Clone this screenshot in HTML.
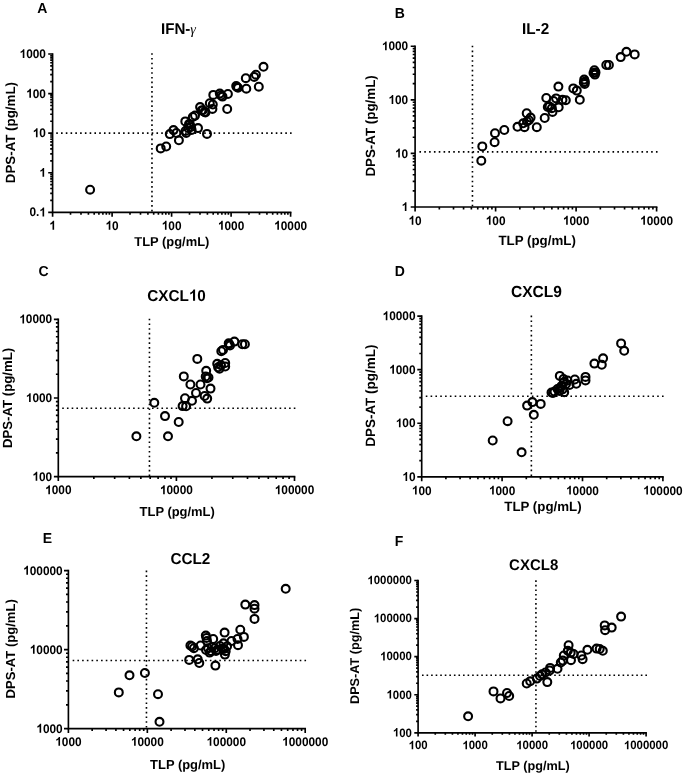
<!DOCTYPE html>
<html><head><meta charset="utf-8"><style>
html,body{margin:0;padding:0;background:#fff;}
svg{display:block;will-change:transform;}
text{font-family:"Liberation Sans", sans-serif;fill:#000;text-rendering:geometricPrecision;}
</style></head><body>
<svg width="685" height="775" viewBox="0 0 685 775">
<rect width="685" height="775" fill="#fff"/>
<path d="M52.6 212.3H290.6M52.6 212.3V54" stroke="#000" stroke-width="1.65" fill="none" stroke-linecap="square"/>
<path d="M52.6 212.3v4.4M70.51 212.3v2.4M80.99 212.3v2.4M88.42 212.3v2.4M94.19 212.3v2.4M98.9 212.3v2.4M102.88 212.3v2.4M106.33 212.3v2.4M109.38 212.3v2.4M112.1 212.3v4.4M130.01 212.3v2.4M140.49 212.3v2.4M147.92 212.3v2.4M153.69 212.3v2.4M158.4 212.3v2.4M162.38 212.3v2.4M165.83 212.3v2.4M168.88 212.3v2.4M171.6 212.3v4.4M189.51 212.3v2.4M199.99 212.3v2.4M207.42 212.3v2.4M213.19 212.3v2.4M217.9 212.3v2.4M221.88 212.3v2.4M225.33 212.3v2.4M228.38 212.3v2.4M231.1 212.3v4.4M249.01 212.3v2.4M259.49 212.3v2.4M266.92 212.3v2.4M272.69 212.3v2.4M277.4 212.3v2.4M281.38 212.3v2.4M284.83 212.3v2.4M287.88 212.3v2.4M290.6 212.3v4.4M52.6 212.3h-4.4M52.6 200.39h-2.4M52.6 193.42h-2.4M52.6 188.47h-2.4M52.6 184.64h-2.4M52.6 181.5h-2.4M52.6 178.86h-2.4M52.6 176.56h-2.4M52.6 174.54h-2.4M52.6 172.73h-4.4M52.6 160.81h-2.4M52.6 153.84h-2.4M52.6 148.9h-2.4M52.6 145.06h-2.4M52.6 141.93h-2.4M52.6 139.28h-2.4M52.6 136.99h-2.4M52.6 134.96h-2.4M52.6 133.15h-4.4M52.6 121.24h-2.4M52.6 114.27h-2.4M52.6 109.32h-2.4M52.6 105.49h-2.4M52.6 102.35h-2.4M52.6 99.71h-2.4M52.6 97.41h-2.4M52.6 95.39h-2.4M52.6 93.58h-4.4M52.6 81.66h-2.4M52.6 74.69h-2.4M52.6 69.75h-2.4M52.6 65.91h-2.4M52.6 62.78h-2.4M52.6 60.13h-2.4M52.6 57.84h-2.4M52.6 55.81h-2.4M52.6 54h-4.4" stroke="#000" stroke-width="1.65" fill="none"/>
<path transform="translate(49.3 229.7) scale(0.005786 -0.006075)" d="M835 0H557V1036C457 943 330 876 183 834V1083C260 1108 346 1152 438 1218C530 1284 593 1367 627 1466H835Z"/>
<path transform="translate(105.51 229.7) scale(0.005786 -0.006075)" d="M835 0H557V1036C457 943 330 876 183 834V1083C260 1108 346 1152 438 1218C530 1284 593 1367 627 1466H835Z"/><text transform="translate(112.1 229.7) scale(1 1.05)" font-size="11.85" font-weight="bold">0</text>
<path transform="translate(161.71 229.7) scale(0.005786 -0.006075)" d="M835 0H557V1036C457 943 330 876 183 834V1083C260 1108 346 1152 438 1218C530 1284 593 1367 627 1466H835Z"/><text transform="translate(168.3 229.7) scale(1 1.05)" font-size="11.85" font-weight="bold">00</text>
<path transform="translate(217.92 229.7) scale(0.005786 -0.006075)" d="M835 0H557V1036C457 943 330 876 183 834V1083C260 1108 346 1152 438 1218C530 1284 593 1367 627 1466H835Z"/><text transform="translate(224.51 229.7) scale(1 1.05)" font-size="11.85" font-weight="bold">000</text>
<path transform="translate(274.12 229.7) scale(0.005786 -0.006075)" d="M835 0H557V1036C457 943 330 876 183 834V1083C260 1108 346 1152 438 1218C530 1284 593 1367 627 1466H835Z"/><text transform="translate(280.71 229.7) scale(1 1.05)" font-size="11.85" font-weight="bold">0000</text>
<text transform="translate(29.43 216.4) scale(1 1.05)" font-size="11.85" font-weight="bold">0.</text><path transform="translate(39.31 216.4) scale(0.005786 -0.006075)" d="M835 0H557V1036C457 943 330 876 183 834V1083C260 1108 346 1152 438 1218C530 1284 593 1367 627 1466H835Z"/>
<path transform="translate(39.31 176.83) scale(0.005786 -0.006075)" d="M835 0H557V1036C457 943 330 876 183 834V1083C260 1108 346 1152 438 1218C530 1284 593 1367 627 1466H835Z"/>
<path transform="translate(32.72 137.25) scale(0.005786 -0.006075)" d="M835 0H557V1036C457 943 330 876 183 834V1083C260 1108 346 1152 438 1218C530 1284 593 1367 627 1466H835Z"/><text transform="translate(39.31 137.25) scale(1 1.05)" font-size="11.85" font-weight="bold">0</text>
<path transform="translate(26.13 97.67) scale(0.005786 -0.006075)" d="M835 0H557V1036C457 943 330 876 183 834V1083C260 1108 346 1152 438 1218C530 1284 593 1367 627 1466H835Z"/><text transform="translate(32.72 97.67) scale(1 1.05)" font-size="11.85" font-weight="bold">00</text>
<path transform="translate(19.54 58.1) scale(0.005786 -0.006075)" d="M835 0H557V1036C457 943 330 876 183 834V1083C260 1108 346 1152 438 1218C530 1284 593 1367 627 1466H835Z"/><text transform="translate(26.13 58.1) scale(1 1.05)" font-size="11.85" font-weight="bold">000</text>
<path d="M151.97 53.14V212.3" stroke="#000" stroke-width="1.6" stroke-dasharray="1.6 3.147" fill="none"/>
<path d="M56.24 133.1H291.6" stroke="#000" stroke-width="1.6" stroke-dasharray="1.6 3.172" fill="none"/>
<text transform="translate(161 34.4) scale(1 1.03)" font-size="15.1" font-weight="bold">IFN-<tspan font-weight="normal" font-family="Liberation Serif" font-style="italic" font-size="14.2">γ</tspan></text>
<text transform="translate(37.2 12.7) scale(1 1.03)" font-size="14" font-weight="bold">A</text>
<text transform="translate(134.3 246.2) " font-size="12.92" font-weight="bold">TLP (pg/mL)</text>
<text transform="translate(15.4 183.2) rotate(-90) scale(1 1.0)" font-size="13.33" font-weight="bold">DPS-AT (pg/mL)</text>
<g fill="none" stroke="#000" stroke-width="2.1"><circle cx="263.5" cy="66.8" r="3.95"/><circle cx="254.2" cy="76.9" r="3.95"/><circle cx="255.9" cy="74.7" r="3.95"/><circle cx="245.8" cy="78.2" r="3.95"/><circle cx="258.8" cy="86.7" r="3.95"/><circle cx="246.3" cy="88.7" r="3.95"/><circle cx="236.2" cy="86.1" r="3.95"/><circle cx="238" cy="87.8" r="3.95"/><circle cx="227.9" cy="94" r="3.95"/><circle cx="219.8" cy="93.6" r="3.95"/><circle cx="222.5" cy="96.6" r="3.95"/><circle cx="213.3" cy="94.9" r="3.95"/><circle cx="227.2" cy="109" r="3.95"/><circle cx="209.8" cy="103.2" r="3.95"/><circle cx="212.8" cy="104.5" r="3.95"/><circle cx="212.4" cy="108.9" r="3.95"/><circle cx="200.1" cy="107.1" r="3.95"/><circle cx="202.8" cy="110.2" r="3.95"/><circle cx="205.4" cy="112.4" r="3.95"/><circle cx="195" cy="115.6" r="3.95"/><circle cx="185.3" cy="121.4" r="3.95"/><circle cx="189.9" cy="124.6" r="3.95"/><circle cx="198" cy="128.1" r="3.95"/><circle cx="185.5" cy="131" r="3.95"/><circle cx="191.6" cy="129.9" r="3.95"/><circle cx="207" cy="133.9" r="3.95"/><circle cx="169.8" cy="134.1" r="3.95"/><circle cx="173.5" cy="130.1" r="3.95"/><circle cx="176.4" cy="133" r="3.95"/><circle cx="178.9" cy="140.3" r="3.95"/><circle cx="160.7" cy="148.4" r="3.95"/><circle cx="166.2" cy="146.5" r="3.95"/><circle cx="90.1" cy="189.7" r="3.95"/><circle cx="221" cy="95.5" r="3.95"/><circle cx="237" cy="87" r="3.95"/><circle cx="192.8" cy="117" r="3.95"/><circle cx="188.2" cy="128" r="3.95"/><circle cx="186.2" cy="133" r="3.95"/><circle cx="189" cy="124" r="3.95"/><circle cx="201.5" cy="110.5" r="3.95"/><circle cx="204.5" cy="112" r="3.95"/><circle cx="191" cy="127" r="3.95"/></g>
<path d="M415.1 207H656.6M415.1 207V46.2" stroke="#000" stroke-width="1.65" fill="none" stroke-linecap="square"/>
<path d="M415.1 207v4.4M439.33 207v2.4M453.51 207v2.4M463.57 207v2.4M471.37 207v2.4M477.74 207v2.4M483.13 207v2.4M487.8 207v2.4M491.92 207v2.4M495.6 207v4.4M519.83 207v2.4M534.01 207v2.4M544.07 207v2.4M551.87 207v2.4M558.24 207v2.4M563.63 207v2.4M568.3 207v2.4M572.42 207v2.4M576.1 207v4.4M600.33 207v2.4M614.51 207v2.4M624.57 207v2.4M632.37 207v2.4M638.74 207v2.4M644.13 207v2.4M648.8 207v2.4M652.92 207v2.4M656.6 207v4.4M415.1 207h-4.4M415.1 190.86h-2.4M415.1 181.43h-2.4M415.1 174.73h-2.4M415.1 169.54h-2.4M415.1 165.29h-2.4M415.1 161.7h-2.4M415.1 158.59h-2.4M415.1 155.85h-2.4M415.1 153.4h-4.4M415.1 137.26h-2.4M415.1 127.83h-2.4M415.1 121.13h-2.4M415.1 115.94h-2.4M415.1 111.69h-2.4M415.1 108.1h-2.4M415.1 104.99h-2.4M415.1 102.25h-2.4M415.1 99.8h-4.4M415.1 83.66h-2.4M415.1 74.23h-2.4M415.1 67.53h-2.4M415.1 62.34h-2.4M415.1 58.09h-2.4M415.1 54.5h-2.4M415.1 51.39h-2.4M415.1 48.65h-2.4M415.1 46.2h-4.4" stroke="#000" stroke-width="1.65" fill="none"/>
<path transform="translate(408.51 224.7) scale(0.005786 -0.006075)" d="M835 0H557V1036C457 943 330 876 183 834V1083C260 1108 346 1152 438 1218C530 1284 593 1367 627 1466H835Z"/><text transform="translate(415.1 224.7) scale(1 1.05)" font-size="11.85" font-weight="bold">0</text>
<path transform="translate(485.71 224.7) scale(0.005786 -0.006075)" d="M835 0H557V1036C457 943 330 876 183 834V1083C260 1108 346 1152 438 1218C530 1284 593 1367 627 1466H835Z"/><text transform="translate(492.3 224.7) scale(1 1.05)" font-size="11.85" font-weight="bold">00</text>
<path transform="translate(562.92 224.7) scale(0.005786 -0.006075)" d="M835 0H557V1036C457 943 330 876 183 834V1083C260 1108 346 1152 438 1218C530 1284 593 1367 627 1466H835Z"/><text transform="translate(569.51 224.7) scale(1 1.05)" font-size="11.85" font-weight="bold">000</text>
<path transform="translate(640.12 224.7) scale(0.005786 -0.006075)" d="M835 0H557V1036C457 943 330 876 183 834V1083C260 1108 346 1152 438 1218C530 1284 593 1367 627 1466H835Z"/><text transform="translate(646.71 224.7) scale(1 1.05)" font-size="11.85" font-weight="bold">0000</text>
<path transform="translate(401.61 211.1) scale(0.005786 -0.006075)" d="M835 0H557V1036C457 943 330 876 183 834V1083C260 1108 346 1152 438 1218C530 1284 593 1367 627 1466H835Z"/>
<path transform="translate(395.02 157.5) scale(0.005786 -0.006075)" d="M835 0H557V1036C457 943 330 876 183 834V1083C260 1108 346 1152 438 1218C530 1284 593 1367 627 1466H835Z"/><text transform="translate(401.61 157.5) scale(1 1.05)" font-size="11.85" font-weight="bold">0</text>
<path transform="translate(388.43 103.9) scale(0.005786 -0.006075)" d="M835 0H557V1036C457 943 330 876 183 834V1083C260 1108 346 1152 438 1218C530 1284 593 1367 627 1466H835Z"/><text transform="translate(395.02 103.9) scale(1 1.05)" font-size="11.85" font-weight="bold">00</text>
<path transform="translate(381.84 50.3) scale(0.005786 -0.006075)" d="M835 0H557V1036C457 943 330 876 183 834V1083C260 1108 346 1152 438 1218C530 1284 593 1367 627 1466H835Z"/><text transform="translate(388.43 50.3) scale(1 1.05)" font-size="11.85" font-weight="bold">000</text>
<path d="M472.45 45.73V207" stroke="#000" stroke-width="1.6" stroke-dasharray="1.6 3.219" fill="none"/>
<path d="M419.43 151.86H657.6" stroke="#000" stroke-width="1.6" stroke-dasharray="1.6 3.227" fill="none"/>
<text transform="translate(522 33.8) scale(1 1.03)" font-size="15.3" font-weight="bold">IL-2</text>
<text transform="translate(394.8 18.4) scale(1 1.03)" font-size="14" font-weight="bold">B</text>
<text transform="translate(498.5 244.7) " font-size="13.3" font-weight="bold">TLP (pg/mL)</text>
<text transform="translate(375.4 176.6) rotate(-90) scale(1 1.0)" font-size="13.37" font-weight="bold">DPS-AT (pg/mL)</text>
<g fill="none" stroke="#000" stroke-width="2.1"><circle cx="626.4" cy="51.8" r="3.95"/><circle cx="634.7" cy="54.4" r="3.95"/><circle cx="620.7" cy="57.1" r="3.95"/><circle cx="606.3" cy="65" r="3.95"/><circle cx="608.9" cy="65" r="3.95"/><circle cx="594.4" cy="70.2" r="3.95"/><circle cx="594.9" cy="74.6" r="3.95"/><circle cx="584.2" cy="79.6" r="3.95"/><circle cx="584.7" cy="84" r="3.95"/><circle cx="573.3" cy="88.4" r="3.95"/><circle cx="576.8" cy="90.6" r="3.95"/><circle cx="558.4" cy="86.6" r="3.95"/><circle cx="579.8" cy="99.8" r="3.95"/><circle cx="546.3" cy="98" r="3.95"/><circle cx="556.1" cy="98.4" r="3.95"/><circle cx="565.8" cy="100.2" r="3.95"/><circle cx="547.8" cy="107" r="3.95"/><circle cx="551.9" cy="108.2" r="3.95"/><circle cx="552.5" cy="111.9" r="3.95"/><circle cx="558.7" cy="107.3" r="3.95"/><circle cx="544.7" cy="118" r="3.95"/><circle cx="536.8" cy="127.2" r="3.95"/><circle cx="526.7" cy="113.2" r="3.95"/><circle cx="530.6" cy="117.6" r="3.95"/><circle cx="528.9" cy="120.2" r="3.95"/><circle cx="523.2" cy="123.3" r="3.95"/><circle cx="524.5" cy="127.2" r="3.95"/><circle cx="517.5" cy="126.8" r="3.95"/><circle cx="504.3" cy="130" r="3.95"/><circle cx="495" cy="133.2" r="3.95"/><circle cx="494.6" cy="142.2" r="3.95"/><circle cx="482.3" cy="146.4" r="3.95"/><circle cx="481.3" cy="160.7" r="3.95"/><circle cx="562.5" cy="99.8" r="3.95"/><circle cx="549.5" cy="106.5" r="3.95"/><circle cx="553.5" cy="101" r="3.95"/><circle cx="527" cy="121.5" r="3.95"/><circle cx="595.5" cy="72.4" r="3.95"/><circle cx="593.5" cy="73" r="3.95"/><circle cx="584.9" cy="81.8" r="3.95"/><circle cx="583.8" cy="82.5" r="3.95"/></g>
<path d="M58.3 476.6H294.5M58.3 476.6V319.3" stroke="#000" stroke-width="1.65" fill="none" stroke-linecap="square"/>
<path d="M58.3 476.6v4.4M93.85 476.6v2.4M114.65 476.6v2.4M129.4 476.6v2.4M140.85 476.6v2.4M150.2 476.6v2.4M158.11 476.6v2.4M164.95 476.6v2.4M171 476.6v2.4M176.4 476.6v4.4M211.95 476.6v2.4M232.75 476.6v2.4M247.5 476.6v2.4M258.95 476.6v2.4M268.3 476.6v2.4M276.21 476.6v2.4M283.05 476.6v2.4M289.1 476.6v2.4M294.5 476.6v4.4M58.3 476.6h-4.4M58.3 452.92h-2.4M58.3 439.07h-2.4M58.3 429.25h-2.4M58.3 421.63h-2.4M58.3 415.4h-2.4M58.3 410.13h-2.4M58.3 405.57h-2.4M58.3 401.55h-2.4M58.3 397.95h-4.4M58.3 374.27h-2.4M58.3 360.42h-2.4M58.3 350.6h-2.4M58.3 342.98h-2.4M58.3 336.75h-2.4M58.3 331.48h-2.4M58.3 326.92h-2.4M58.3 322.9h-2.4M58.3 319.3h-4.4" stroke="#000" stroke-width="1.65" fill="none"/>
<path transform="translate(45.12 494.2) scale(0.005786 -0.006075)" d="M835 0H557V1036C457 943 330 876 183 834V1083C260 1108 346 1152 438 1218C530 1284 593 1367 627 1466H835Z"/><text transform="translate(51.71 494.2) scale(1 1.05)" font-size="11.85" font-weight="bold">000</text>
<path transform="translate(159.92 494.2) scale(0.005786 -0.006075)" d="M835 0H557V1036C457 943 330 876 183 834V1083C260 1108 346 1152 438 1218C530 1284 593 1367 627 1466H835Z"/><text transform="translate(166.51 494.2) scale(1 1.05)" font-size="11.85" font-weight="bold">0000</text>
<path transform="translate(274.73 494.2) scale(0.005786 -0.006075)" d="M835 0H557V1036C457 943 330 876 183 834V1083C260 1108 346 1152 438 1218C530 1284 593 1367 627 1466H835Z"/><text transform="translate(281.32 494.2) scale(1 1.05)" font-size="11.85" font-weight="bold">00000</text>
<path transform="translate(32.43 480.7) scale(0.005786 -0.006075)" d="M835 0H557V1036C457 943 330 876 183 834V1083C260 1108 346 1152 438 1218C530 1284 593 1367 627 1466H835Z"/><text transform="translate(39.02 480.7) scale(1 1.05)" font-size="11.85" font-weight="bold">00</text>
<path transform="translate(25.84 402.05) scale(0.005786 -0.006075)" d="M835 0H557V1036C457 943 330 876 183 834V1083C260 1108 346 1152 438 1218C530 1284 593 1367 627 1466H835Z"/><text transform="translate(32.43 402.05) scale(1 1.05)" font-size="11.85" font-weight="bold">000</text>
<path transform="translate(19.25 323.4) scale(0.005786 -0.006075)" d="M835 0H557V1036C457 943 330 876 183 834V1083C260 1108 346 1152 438 1218C530 1284 593 1367 627 1466H835Z"/><text transform="translate(25.84 323.4) scale(1 1.05)" font-size="11.85" font-weight="bold">0000</text>
<path d="M149.45 318.7V476.6" stroke="#000" stroke-width="1.6" stroke-dasharray="1.6 3.122" fill="none"/>
<path d="M62.21 408.32H295.5" stroke="#000" stroke-width="1.6" stroke-dasharray="1.6 3.126" fill="none"/>
<text transform="translate(147.2 300.8) scale(1 1.03)" font-size="15.3" font-weight="bold">CXCL</text><path transform="translate(188.85 300.8) scale(0.007471 -0.007695)" d="M835 0H557V1036C457 943 330 876 183 834V1083C260 1108 346 1152 438 1218C530 1284 593 1367 627 1466H835Z"/><text transform="translate(197.36 300.8) scale(1 1.03)" font-size="15.3" font-weight="bold">0</text>
<text transform="translate(38.5 275.6) scale(1 1.03)" font-size="14" font-weight="bold">C</text>
<text transform="translate(139.6 516.2) " font-size="12.94" font-weight="bold">TLP (pg/mL)</text>
<text transform="translate(12.1 448) rotate(-90) scale(1 1.0)" font-size="13.2" font-weight="bold">DPS-AT (pg/mL)</text>
<g fill="none" stroke="#000" stroke-width="2.1"><circle cx="234.4" cy="341.6" r="3.95"/><circle cx="228.7" cy="343.3" r="3.95"/><circle cx="230" cy="345.5" r="3.95"/><circle cx="242.3" cy="344.2" r="3.95"/><circle cx="244.9" cy="344.2" r="3.95"/><circle cx="221.3" cy="351.2" r="3.95"/><circle cx="223" cy="349.9" r="3.95"/><circle cx="197.3" cy="358.9" r="3.95"/><circle cx="217.2" cy="363.8" r="3.95"/><circle cx="218.1" cy="367.3" r="3.95"/><circle cx="225.2" cy="363" r="3.95"/><circle cx="225.2" cy="366.5" r="3.95"/><circle cx="206.2" cy="370.8" r="3.95"/><circle cx="205.7" cy="376.5" r="3.95"/><circle cx="207" cy="378.3" r="3.95"/><circle cx="183.8" cy="376.4" r="3.95"/><circle cx="190.4" cy="384.5" r="3.95"/><circle cx="200.5" cy="384.5" r="3.95"/><circle cx="210.5" cy="388.6" r="3.95"/><circle cx="196" cy="393" r="3.95"/><circle cx="204.6" cy="396" r="3.95"/><circle cx="207.2" cy="398.6" r="3.95"/><circle cx="185" cy="398.2" r="3.95"/><circle cx="192" cy="400.8" r="3.95"/><circle cx="182.6" cy="406.1" r="3.95"/><circle cx="186.1" cy="406.3" r="3.95"/><circle cx="154.3" cy="402.8" r="3.95"/><circle cx="165" cy="416.1" r="3.95"/><circle cx="178.7" cy="422" r="3.95"/><circle cx="136.4" cy="436.3" r="3.95"/><circle cx="168" cy="436.3" r="3.95"/><circle cx="221" cy="365.3" r="3.95"/><circle cx="219.5" cy="368.8" r="3.95"/><circle cx="229" cy="344.3" r="3.95"/><circle cx="208.5" cy="377.5" r="3.95"/></g>
<path d="M421.7 476.8H662.9M421.7 476.8V316.1" stroke="#000" stroke-width="1.65" fill="none" stroke-linecap="square"/>
<path d="M421.7 476.8v4.4M445.9 476.8v2.4M460.06 476.8v2.4M470.11 476.8v2.4M477.9 476.8v2.4M484.26 476.8v2.4M489.65 476.8v2.4M494.31 476.8v2.4M498.42 476.8v2.4M502.1 476.8v4.4M526.3 476.8v2.4M540.46 476.8v2.4M550.51 476.8v2.4M558.3 476.8v2.4M564.66 476.8v2.4M570.05 476.8v2.4M574.71 476.8v2.4M578.82 476.8v2.4M582.5 476.8v4.4M606.7 476.8v2.4M620.86 476.8v2.4M630.91 476.8v2.4M638.7 476.8v2.4M645.06 476.8v2.4M650.45 476.8v2.4M655.11 476.8v2.4M659.22 476.8v2.4M662.9 476.8v4.4M421.7 476.8h-4.4M421.7 460.67h-2.4M421.7 451.24h-2.4M421.7 444.55h-2.4M421.7 439.36h-2.4M421.7 435.12h-2.4M421.7 431.53h-2.4M421.7 428.42h-2.4M421.7 425.68h-2.4M421.7 423.23h-4.4M421.7 407.11h-2.4M421.7 397.68h-2.4M421.7 390.98h-2.4M421.7 385.79h-2.4M421.7 381.55h-2.4M421.7 377.96h-2.4M421.7 374.86h-2.4M421.7 372.12h-2.4M421.7 369.67h-4.4M421.7 353.54h-2.4M421.7 344.11h-2.4M421.7 337.42h-2.4M421.7 332.23h-2.4M421.7 327.98h-2.4M421.7 324.4h-2.4M421.7 321.29h-2.4M421.7 318.55h-2.4M421.7 316.1h-4.4" stroke="#000" stroke-width="1.65" fill="none"/>
<path transform="translate(411.81 494.6) scale(0.005786 -0.006075)" d="M835 0H557V1036C457 943 330 876 183 834V1083C260 1108 346 1152 438 1218C530 1284 593 1367 627 1466H835Z"/><text transform="translate(418.4 494.6) scale(1 1.05)" font-size="11.85" font-weight="bold">00</text>
<path transform="translate(488.92 494.6) scale(0.005786 -0.006075)" d="M835 0H557V1036C457 943 330 876 183 834V1083C260 1108 346 1152 438 1218C530 1284 593 1367 627 1466H835Z"/><text transform="translate(495.51 494.6) scale(1 1.05)" font-size="11.85" font-weight="bold">000</text>
<path transform="translate(566.02 494.6) scale(0.005786 -0.006075)" d="M835 0H557V1036C457 943 330 876 183 834V1083C260 1108 346 1152 438 1218C530 1284 593 1367 627 1466H835Z"/><text transform="translate(572.61 494.6) scale(1 1.05)" font-size="11.85" font-weight="bold">0000</text>
<path transform="translate(643.13 494.6) scale(0.005786 -0.006075)" d="M835 0H557V1036C457 943 330 876 183 834V1083C260 1108 346 1152 438 1218C530 1284 593 1367 627 1466H835Z"/><text transform="translate(649.72 494.6) scale(1 1.05)" font-size="11.85" font-weight="bold">00000</text>
<path transform="translate(402.32 480.9) scale(0.005786 -0.006075)" d="M835 0H557V1036C457 943 330 876 183 834V1083C260 1108 346 1152 438 1218C530 1284 593 1367 627 1466H835Z"/><text transform="translate(408.91 480.9) scale(1 1.05)" font-size="11.85" font-weight="bold">0</text>
<path transform="translate(395.73 427.33) scale(0.005786 -0.006075)" d="M835 0H557V1036C457 943 330 876 183 834V1083C260 1108 346 1152 438 1218C530 1284 593 1367 627 1466H835Z"/><text transform="translate(402.32 427.33) scale(1 1.05)" font-size="11.85" font-weight="bold">00</text>
<path transform="translate(389.14 373.77) scale(0.005786 -0.006075)" d="M835 0H557V1036C457 943 330 876 183 834V1083C260 1108 346 1152 438 1218C530 1284 593 1367 627 1466H835Z"/><text transform="translate(395.73 373.77) scale(1 1.05)" font-size="11.85" font-weight="bold">000</text>
<path transform="translate(382.55 320.2) scale(0.005786 -0.006075)" d="M835 0H557V1036C457 943 330 876 183 834V1083C260 1108 346 1152 438 1218C530 1284 593 1367 627 1466H835Z"/><text transform="translate(389.14 320.2) scale(1 1.05)" font-size="11.85" font-weight="bold">0000</text>
<path d="M531.36 315.58V476.8" stroke="#000" stroke-width="1.6" stroke-dasharray="1.6 3.213" fill="none"/>
<path d="M425.77 396.32H663.9" stroke="#000" stroke-width="1.6" stroke-dasharray="1.6 3.221" fill="none"/>
<text transform="translate(510.9 296.9) scale(1 1.03)" font-size="15.55" font-weight="bold">CXCL9</text>
<text transform="translate(394.8 276.2) scale(1 1.03)" font-size="14" font-weight="bold">D</text>
<text transform="translate(504.3 511.2) " font-size="13.3" font-weight="bold">TLP (pg/mL)</text>
<text transform="translate(375.4 446.8) rotate(-90) scale(1 1.0)" font-size="13.48" font-weight="bold">DPS-AT (pg/mL)</text>
<g fill="none" stroke="#000" stroke-width="2.1"><circle cx="621.1" cy="343.4" r="3.95"/><circle cx="624.2" cy="350.8" r="3.95"/><circle cx="603.1" cy="358.3" r="3.95"/><circle cx="601.8" cy="364.8" r="3.95"/><circle cx="594.4" cy="363.6" r="3.95"/><circle cx="585.5" cy="376.9" r="3.95"/><circle cx="585.5" cy="380.4" r="3.95"/><circle cx="559.8" cy="375.9" r="3.95"/><circle cx="551.5" cy="392.5" r="3.95"/><circle cx="554.5" cy="391.5" r="3.95"/><circle cx="564.2" cy="392.2" r="3.95"/><circle cx="532.4" cy="402.1" r="3.95"/><circle cx="527.1" cy="405.6" r="3.95"/><circle cx="540.7" cy="403.9" r="3.95"/><circle cx="533.8" cy="414.8" r="3.95"/><circle cx="507.6" cy="421.2" r="3.95"/><circle cx="492.7" cy="440.5" r="3.95"/><circle cx="521.6" cy="452.3" r="3.95"/><circle cx="574.8" cy="379.5" r="3.95"/><circle cx="576.3" cy="383.8" r="3.95"/><circle cx="563.5" cy="379" r="3.95"/><circle cx="567.5" cy="380.5" r="3.95"/><circle cx="566" cy="384" r="3.95"/><circle cx="561.5" cy="386" r="3.95"/><circle cx="557.5" cy="389" r="3.95"/><circle cx="562.5" cy="389.5" r="3.95"/><circle cx="569.5" cy="385" r="3.95"/><circle cx="559.5" cy="391" r="3.95"/><circle cx="553" cy="393" r="3.95"/><circle cx="564" cy="382" r="3.95"/><circle cx="560" cy="388" r="3.95"/></g>
<path d="M68.4 728.6H305.2M68.4 728.6V570.6" stroke="#000" stroke-width="1.65" fill="none" stroke-linecap="square"/>
<path d="M68.4 728.6v4.4M92.16 728.6v2.4M106.06 728.6v2.4M115.92 728.6v2.4M123.57 728.6v2.4M129.82 728.6v2.4M135.11 728.6v2.4M139.68 728.6v2.4M143.72 728.6v2.4M147.33 728.6v4.4M171.09 728.6v2.4M184.99 728.6v2.4M194.86 728.6v2.4M202.51 728.6v2.4M208.76 728.6v2.4M214.04 728.6v2.4M218.62 728.6v2.4M222.65 728.6v2.4M226.27 728.6v4.4M250.03 728.6v2.4M263.93 728.6v2.4M273.79 728.6v2.4M281.44 728.6v2.4M287.69 728.6v2.4M292.97 728.6v2.4M297.55 728.6v2.4M301.59 728.6v2.4M305.2 728.6v4.4M68.4 728.6h-4.4M68.4 704.82h-2.4M68.4 690.91h-2.4M68.4 681.04h-2.4M68.4 673.38h-2.4M68.4 667.13h-2.4M68.4 661.84h-2.4M68.4 657.26h-2.4M68.4 653.21h-2.4M68.4 649.6h-4.4M68.4 625.82h-2.4M68.4 611.91h-2.4M68.4 602.04h-2.4M68.4 594.38h-2.4M68.4 588.13h-2.4M68.4 582.84h-2.4M68.4 578.26h-2.4M68.4 574.21h-2.4M68.4 570.6h-4.4" stroke="#000" stroke-width="1.65" fill="none"/>
<path transform="translate(55.22 745.8) scale(0.005786 -0.006075)" d="M835 0H557V1036C457 943 330 876 183 834V1083C260 1108 346 1152 438 1218C530 1284 593 1367 627 1466H835Z"/><text transform="translate(61.81 745.8) scale(1 1.05)" font-size="11.85" font-weight="bold">000</text>
<path transform="translate(130.86 745.8) scale(0.005786 -0.006075)" d="M835 0H557V1036C457 943 330 876 183 834V1083C260 1108 346 1152 438 1218C530 1284 593 1367 627 1466H835Z"/><text transform="translate(137.45 745.8) scale(1 1.05)" font-size="11.85" font-weight="bold">0000</text>
<path transform="translate(206.5 745.8) scale(0.005786 -0.006075)" d="M835 0H557V1036C457 943 330 876 183 834V1083C260 1108 346 1152 438 1218C530 1284 593 1367 627 1466H835Z"/><text transform="translate(213.09 745.8) scale(1 1.05)" font-size="11.85" font-weight="bold">00000</text>
<path transform="translate(282.13 745.8) scale(0.005786 -0.006075)" d="M835 0H557V1036C457 943 330 876 183 834V1083C260 1108 346 1152 438 1218C530 1284 593 1367 627 1466H835Z"/><text transform="translate(288.72 745.8) scale(1 1.05)" font-size="11.85" font-weight="bold">000000</text>
<path transform="translate(36.34 732.7) scale(0.005786 -0.006075)" d="M835 0H557V1036C457 943 330 876 183 834V1083C260 1108 346 1152 438 1218C530 1284 593 1367 627 1466H835Z"/><text transform="translate(42.93 732.7) scale(1 1.05)" font-size="11.85" font-weight="bold">000</text>
<path transform="translate(29.75 653.7) scale(0.005786 -0.006075)" d="M835 0H557V1036C457 943 330 876 183 834V1083C260 1108 346 1152 438 1218C530 1284 593 1367 627 1466H835Z"/><text transform="translate(36.34 653.7) scale(1 1.05)" font-size="11.85" font-weight="bold">0000</text>
<path transform="translate(23.16 574.7) scale(0.005786 -0.006075)" d="M835 0H557V1036C457 943 330 876 183 834V1083C260 1108 346 1152 438 1218C530 1284 593 1367 627 1466H835Z"/><text transform="translate(29.75 574.7) scale(1 1.05)" font-size="11.85" font-weight="bold">00000</text>
<path d="M146.45 570.6V728.6" stroke="#000" stroke-width="1.6" stroke-dasharray="1.6 3.107" fill="none"/>
<path d="M72.65 660.54H306.2" stroke="#000" stroke-width="1.6" stroke-dasharray="1.6 3.131" fill="none"/>
<text transform="translate(170.4 563.9) scale(1 1.03)" font-size="15.3" font-weight="bold">CCL2</text>
<text transform="translate(42.8 543) scale(1 1.03)" font-size="14" font-weight="bold">E</text>
<text transform="translate(150.1 769.1) " font-size="12.94" font-weight="bold">TLP (pg/mL)</text>
<text transform="translate(15.4 698.4) rotate(-90) scale(1 1.0)" font-size="13.07" font-weight="bold">DPS-AT (pg/mL)</text>
<g fill="none" stroke="#000" stroke-width="2.1"><circle cx="285.7" cy="588.8" r="3.95"/><circle cx="245.3" cy="604.6" r="3.95"/><circle cx="254.5" cy="605.1" r="3.95"/><circle cx="254.5" cy="608.7" r="3.95"/><circle cx="254.5" cy="618.9" r="3.95"/><circle cx="224.6" cy="632.6" r="3.95"/><circle cx="240.3" cy="629.7" r="3.95"/><circle cx="243.9" cy="636.9" r="3.95"/><circle cx="237.5" cy="639" r="3.95"/><circle cx="238" cy="645.2" r="3.95"/><circle cx="231.5" cy="641" r="3.95"/><circle cx="190.4" cy="645.5" r="3.95"/><circle cx="193.9" cy="648.2" r="3.95"/><circle cx="200.6" cy="645.5" r="3.95"/><circle cx="205.8" cy="635.6" r="3.95"/><circle cx="213.2" cy="639" r="3.95"/><circle cx="207" cy="641" r="3.95"/><circle cx="208.1" cy="648.2" r="3.95"/><circle cx="211.1" cy="651.2" r="3.95"/><circle cx="214.7" cy="648.2" r="3.95"/><circle cx="209.6" cy="652.6" r="3.95"/><circle cx="217.6" cy="649.7" r="3.95"/><circle cx="223.5" cy="643.3" r="3.95"/><circle cx="227.1" cy="646.3" r="3.95"/><circle cx="222.7" cy="648.5" r="3.95"/><circle cx="225.7" cy="651.2" r="3.95"/><circle cx="224.9" cy="654.6" r="3.95"/><circle cx="189.2" cy="659.9" r="3.95"/><circle cx="197.7" cy="659.3" r="3.95"/><circle cx="199.3" cy="663" r="3.95"/><circle cx="215.4" cy="665.6" r="3.95"/><circle cx="129.5" cy="675.3" r="3.95"/><circle cx="144.9" cy="673" r="3.95"/><circle cx="118.8" cy="692.4" r="3.95"/><circle cx="158" cy="694.2" r="3.95"/><circle cx="159.5" cy="721.8" r="3.95"/><circle cx="212" cy="647" r="3.95"/><circle cx="216" cy="651" r="3.95"/><circle cx="220" cy="646" r="3.95"/><circle cx="224" cy="649" r="3.95"/><circle cx="206" cy="650" r="3.95"/><circle cx="192" cy="646.5" r="3.95"/><circle cx="206.5" cy="638" r="3.95"/></g>
<path d="M418.1 732.8H646.1M418.1 732.8V580.5" stroke="#000" stroke-width="1.65" fill="none" stroke-linecap="square"/>
<path d="M418.1 732.8v3.8M435.26 732.8v2.0M445.3 732.8v2.0M452.42 732.8v2.0M457.94 732.8v2.0M462.45 732.8v2.0M466.27 732.8v2.0M469.58 732.8v2.0M472.49 732.8v2.0M475.1 732.8v3.8M492.26 732.8v2.0M502.3 732.8v2.0M509.42 732.8v2.0M514.94 732.8v2.0M519.45 732.8v2.0M523.27 732.8v2.0M526.58 732.8v2.0M529.49 732.8v2.0M532.1 732.8v3.8M549.26 732.8v2.0M559.3 732.8v2.0M566.42 732.8v2.0M571.94 732.8v2.0M576.45 732.8v2.0M580.27 732.8v2.0M583.58 732.8v2.0M586.49 732.8v2.0M589.1 732.8v3.8M606.26 732.8v2.0M616.3 732.8v2.0M623.42 732.8v2.0M628.94 732.8v2.0M633.45 732.8v2.0M637.27 732.8v2.0M640.58 732.8v2.0M643.49 732.8v2.0M646.1 732.8v3.8M418.1 732.8h-3.8M418.1 721.34h-2.0M418.1 714.63h-2.0M418.1 709.88h-2.0M418.1 706.19h-2.0M418.1 703.17h-2.0M418.1 700.62h-2.0M418.1 698.41h-2.0M418.1 696.47h-2.0M418.1 694.72h-3.8M418.1 683.26h-2.0M418.1 676.56h-2.0M418.1 671.8h-2.0M418.1 668.11h-2.0M418.1 665.1h-2.0M418.1 662.55h-2.0M418.1 660.34h-2.0M418.1 658.39h-2.0M418.1 656.65h-3.8M418.1 645.19h-2.0M418.1 638.48h-2.0M418.1 633.73h-2.0M418.1 630.04h-2.0M418.1 627.02h-2.0M418.1 624.47h-2.0M418.1 622.26h-2.0M418.1 620.32h-2.0M418.1 618.58h-3.8M418.1 607.11h-2.0M418.1 600.41h-2.0M418.1 595.65h-2.0M418.1 591.96h-2.0M418.1 588.95h-2.0M418.1 586.4h-2.0M418.1 584.19h-2.0M418.1 582.24h-2.0M418.1 580.5h-3.8" stroke="#000" stroke-width="1.65" fill="none"/>
<path transform="translate(408.55 749.3) scale(0.005591 -0.005870)" d="M835 0H557V1036C457 943 330 876 183 834V1083C260 1108 346 1152 438 1218C530 1284 593 1367 627 1466H835Z"/><text transform="translate(414.92 749.3) scale(1 1.05)" font-size="11.45" font-weight="bold">00</text>
<path transform="translate(462.36 749.3) scale(0.005591 -0.005870)" d="M835 0H557V1036C457 943 330 876 183 834V1083C260 1108 346 1152 438 1218C530 1284 593 1367 627 1466H835Z"/><text transform="translate(468.73 749.3) scale(1 1.05)" font-size="11.45" font-weight="bold">000</text>
<path transform="translate(516.18 749.3) scale(0.005591 -0.005870)" d="M835 0H557V1036C457 943 330 876 183 834V1083C260 1108 346 1152 438 1218C530 1284 593 1367 627 1466H835Z"/><text transform="translate(522.55 749.3) scale(1 1.05)" font-size="11.45" font-weight="bold">0000</text>
<path transform="translate(570 749.3) scale(0.005591 -0.005870)" d="M835 0H557V1036C457 943 330 876 183 834V1083C260 1108 346 1152 438 1218C530 1284 593 1367 627 1466H835Z"/><text transform="translate(576.36 749.3) scale(1 1.05)" font-size="11.45" font-weight="bold">00000</text>
<path transform="translate(623.81 749.3) scale(0.005591 -0.005870)" d="M835 0H557V1036C457 943 330 876 183 834V1083C260 1108 346 1152 438 1218C530 1284 593 1367 627 1466H835Z"/><text transform="translate(630.18 749.3) scale(1 1.05)" font-size="11.45" font-weight="bold">000000</text>
<path transform="translate(392.8 736.6) scale(0.005591 -0.005870)" d="M835 0H557V1036C457 943 330 876 183 834V1083C260 1108 346 1152 438 1218C530 1284 593 1367 627 1466H835Z"/><text transform="translate(399.16 736.6) scale(1 1.05)" font-size="11.45" font-weight="bold">00</text>
<path transform="translate(386.43 698.52) scale(0.005591 -0.005870)" d="M835 0H557V1036C457 943 330 876 183 834V1083C260 1108 346 1152 438 1218C530 1284 593 1367 627 1466H835Z"/><text transform="translate(392.8 698.52) scale(1 1.05)" font-size="11.45" font-weight="bold">000</text>
<path transform="translate(380.06 660.45) scale(0.005591 -0.005870)" d="M835 0H557V1036C457 943 330 876 183 834V1083C260 1108 346 1152 438 1218C530 1284 593 1367 627 1466H835Z"/><text transform="translate(386.43 660.45) scale(1 1.05)" font-size="11.45" font-weight="bold">0000</text>
<path transform="translate(373.69 622.38) scale(0.005591 -0.005870)" d="M835 0H557V1036C457 943 330 876 183 834V1083C260 1108 346 1152 438 1218C530 1284 593 1367 627 1466H835Z"/><text transform="translate(380.06 622.38) scale(1 1.05)" font-size="11.45" font-weight="bold">00000</text>
<path transform="translate(367.32 584.3) scale(0.005591 -0.005870)" d="M835 0H557V1036C457 943 330 876 183 834V1083C260 1108 346 1152 438 1218C530 1284 593 1367 627 1466H835Z"/><text transform="translate(373.69 584.3) scale(1 1.05)" font-size="11.45" font-weight="bold">000000</text>
<path d="M535.93 580.31V732.8" stroke="#000" stroke-width="1.6" stroke-dasharray="1.6 2.944" fill="none"/>
<path d="M421.99 675.32H647.1" stroke="#000" stroke-width="1.6" stroke-dasharray="1.6 2.959" fill="none"/>
<text transform="translate(509.1 569.5) scale(1 1.03)" font-size="15.0" font-weight="bold">CXCL8</text>
<text transform="translate(394.8 546) scale(1 1.03)" font-size="14" font-weight="bold">F</text>
<text transform="translate(496.1 769.5) " font-size="12.66" font-weight="bold">TLP (pg/mL)</text>
<text transform="translate(359 704) rotate(-90) scale(1 1.0)" font-size="12.7" font-weight="bold">DPS-AT (pg/mL)</text>
<g fill="none" stroke="#000" stroke-width="2.1"><circle cx="621.1" cy="616.6" r="3.95"/><circle cx="604.7" cy="625.4" r="3.95"/><circle cx="605.1" cy="630.2" r="3.95"/><circle cx="611.7" cy="627.6" r="3.95"/><circle cx="568.6" cy="645.2" r="3.95"/><circle cx="587.4" cy="649.8" r="3.95"/><circle cx="596.6" cy="648.6" r="3.95"/><circle cx="599.7" cy="649" r="3.95"/><circle cx="602.8" cy="650.8" r="3.95"/><circle cx="567.8" cy="650.8" r="3.95"/><circle cx="570.7" cy="652.8" r="3.95"/><circle cx="573.6" cy="654" r="3.95"/><circle cx="563.8" cy="655.5" r="3.95"/><circle cx="571" cy="660.2" r="3.95"/><circle cx="581.3" cy="655.5" r="3.95"/><circle cx="582.6" cy="659.2" r="3.95"/><circle cx="560.8" cy="662.5" r="3.95"/><circle cx="557.5" cy="668.8" r="3.95"/><circle cx="550.1" cy="667.9" r="3.95"/><circle cx="549.7" cy="670.4" r="3.95"/><circle cx="542" cy="674.3" r="3.95"/><circle cx="545.5" cy="672.5" r="3.95"/><circle cx="536.8" cy="678.6" r="3.95"/><circle cx="530.2" cy="681.3" r="3.95"/><circle cx="526.7" cy="683.5" r="3.95"/><circle cx="547.3" cy="682.1" r="3.95"/><circle cx="507" cy="693" r="3.95"/><circle cx="509.2" cy="696" r="3.95"/><circle cx="493.5" cy="691.4" r="3.95"/><circle cx="500.5" cy="698.4" r="3.95"/><circle cx="468.1" cy="716.3" r="3.95"/><circle cx="540" cy="676" r="3.95"/><circle cx="562.8" cy="660.6" r="3.95"/></g>
</svg>
</body></html>
